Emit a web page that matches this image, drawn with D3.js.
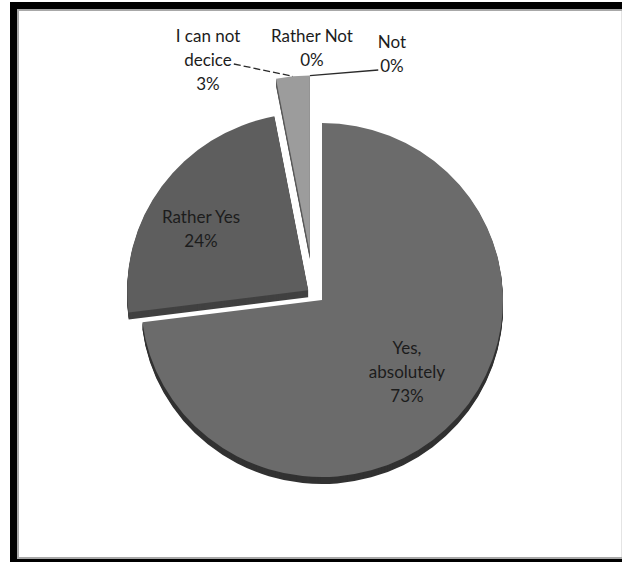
<!DOCTYPE html>
<html>
<head>
<meta charset="utf-8">
<script src="https://cdn.jsdelivr.net/npm/d3@7"></script>
<style>
  html, body { margin: 0; padding: 0; background: #fff; }
  svg { display: block; }
  text { font-family: Lato, "Open Sans", sans-serif; font-size: 17px; fill: #1c1c1c; }
</style>
</head>
<body>
<svg id="chart" width="622" height="562"></svg>
<script>
// Survey answers and their shares (percent)
const categories = ["Yes, absolutely", "Rather Yes", "I can not decice", "Rather Not", "Not"];
const values = [73, 24, 3, 0, 0];
// Label text lines shown above each percentage
const labelLines = [["Yes,", "absolutely"], ["Rather Yes"], ["I can not", "decice"], ["Rather Not"], ["Not"]];

// Styling and layout
const W = 622, H = 562;
const cx = 322, cy = 300, rx = 181, ry = 177;   // tilted pie: horizontal / vertical radius
const depth = 7;                                 // slice thickness
const tilt = ry / rx;
const topColors = ["#6b6b6b", "#5e5e5e", "#9c9c9c", "#8a8a8a", "#7a7a7a"];
const sideColors = ["#323232", "#414141", "#5a5a5a", "#505050", "#484848"];
// explosion distance and direction (degrees clockwise from 12 o'clock; null = slice middle)
const explode = [0, 17, 50, 50, 50];
const explodeDir = [null, null, 346, 346, 346];
const lineGap = 24;
// label block centres relative to the pie centre
const labelOffset = [[85, 71], [-121, -72], [-114, -241], [-10, -253], [70, -247]];
const leaders = { 2: "right", 4: "left" };

const svg = d3.select("#chart");

// frame
svg.append("rect").attr("x", 10).attr("y", 2).attr("width", W).attr("height", H).attr("fill", "#000");
svg.append("rect").attr("x", 17).attr("y", 9).attr("width", W - 17).attr("height", 550).attr("fill", "#a8a8a8");
svg.append("rect").attr("x", 19).attr("y", 11).attr("width", W - 20).attr("height", 546).attr("fill", "#fff");
svg.append("rect").attr("x", W - 1).attr("y", 11).attr("width", 1).attr("height", 546).attr("fill", "#e4e4e4");

const pie = d3.pie().sort(null).value(d => d).startAngle(0).endAngle(2 * Math.PI);
const arcs = pie(values);
const arc = d3.arc().innerRadius(0).outerRadius(rx);

function offsetOf(i) {
  const a = explodeDir[i] == null
    ? (arcs[i].startAngle + arcs[i].endAngle) / 2
    : explodeDir[i] * Math.PI / 180;
  const d = explode[i];
  return [Math.sin(a) * d, -Math.cos(a) * d * tilt];
}

const pieG = svg.append("g");

// extruded sides (drawn first, below the tops)
arcs.forEach((a, i) => {
  if (a.endAngle - a.startAngle <= 0) return;
  const [dx, dy] = offsetOf(i);
  for (let s = depth; s >= 1; s--) {
    pieG.append("path")
      .attr("d", arc(a))
      .attr("transform", `translate(${cx + dx},${cy + dy + s}) scale(1,${tilt})`)
      .attr("fill", sideColors[i]);
  }
});

// top faces
arcs.forEach((a, i) => {
  if (a.endAngle - a.startAngle <= 0) return;
  const [dx, dy] = offsetOf(i);
  pieG.append("path")
    .attr("d", arc(a))
    .attr("transform", `translate(${cx + dx},${cy + dy}) scale(1,${tilt})`)
    .attr("fill", topColors[i]);
});

// labels
const labelG = svg.append("g");
arcs.forEach((a, i) => {
  const lines = labelLines[i].concat([d3.format(".0f")(values[i]) + "%"]);
  const bx = cx + labelOffset[i][0];
  const by = cy + labelOffset[i][1] - (lines.length - 1) * lineGap / 2;
  const t = labelG.append("text")
    .attr("text-anchor", "middle")
    .attr("dominant-baseline", "central");
  lines.forEach((ln, k) => {
    t.append("tspan").attr("x", bx).attr("y", by + k * lineGap).text(ln);
  });

  if (leaders[i]) {
    // leader from the label to the slice's outer edge
    const [dx, dy] = offsetOf(i);
    const mid = (a.startAngle + a.endAngle) / 2;
    const ex = cx + dx + Math.sin(mid) * rx;
    const ey = cy + dy - Math.cos(mid) * ry;
    const spans = t.selectAll("tspan").nodes();
    let sx, sy;
    if (leaders[i] === "right") {
      const sp = spans[spans.length - 2];
      sx = bx + sp.getComputedTextLength() / 2 + 2;
      sy = by + (spans.length - 2) * lineGap + 5;
    } else {
      const sp = spans[spans.length - 1];
      sx = bx - sp.getComputedTextLength() / 2 - 2;
      sy = by + (spans.length - 1) * lineGap + 5;
    }
    labelG.append("path")
      .attr("d", d3.line()([[sx, sy], [ex, ey]]))
      .attr("fill", "none")
      .attr("stroke", "#2a2a2a")
      .attr("stroke-width", 1.3)
      .attr("stroke-dasharray", leaders[i] === "right" ? "7,3" : null);
  }
});
</script>
</body>
</html>
